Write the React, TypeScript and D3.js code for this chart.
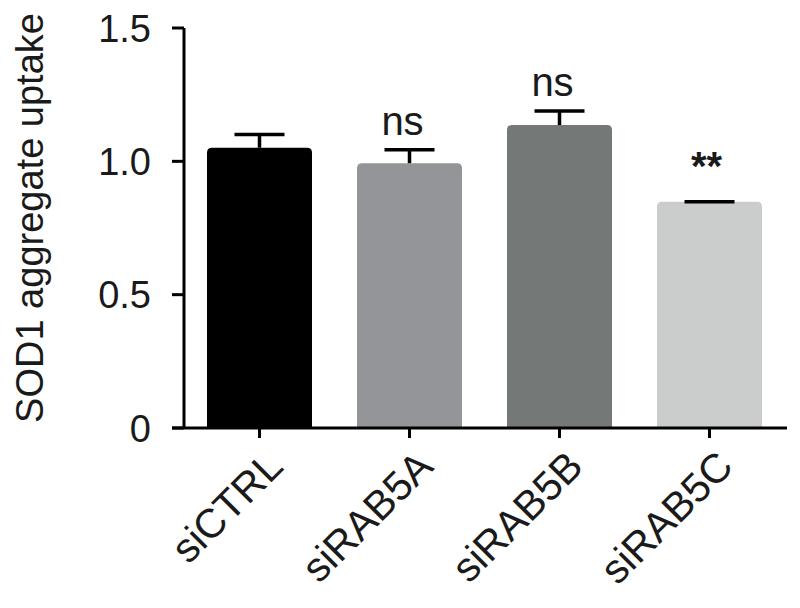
import React from "react";
import * as d3 from "d3";

const categories = ["siCTRL", "siRAB5A", "siRAB5B", "siRAB5C"];
const means = [1.051, 0.993, 1.136, 0.848];
const errors = [0.05, 0.05, 0.053, 0.0];
const barColors = ["#000000", "#939598", "#747978", "#cbcdcc"];
const significance = ["", "ns", "ns", "**"];
const yTicks = [0, 0.5, 1.0, 1.5];
const yTickLabels = ["0", "0.5", "1.0", "1.5"];
const yLabel = "SOD1 aggregate uptake";

const W = 800;
const H = 608;
const FONT = "'Liberation Sans', Arial, Helvetica, sans-serif";

export default function App() {
  const axisX = 184;
  const y = d3.scaleLinear().domain([0, 1.5]).range([428, 28]);
  const x = d3
    .scaleBand<string>()
    .domain(categories)
    .range([184.5, 784.5])
    .paddingInner(0.3)
    .paddingOuter(0.15);
  const bw = x.bandwidth();
  const capW = 50;
  const r = 5;

  return (
    <svg
      width={W}
      height={H}
      style={{ position: "absolute", left: 0, top: 0, background: "#fff" }}
      fontFamily={FONT}
    >
      {/* bars */}
      {categories.map((c, i) => {
        const x0 = x(c)!;
        const yt = y(means[i]);
        const yb = y(0);
        const path = `M${x0},${yb} L${x0},${yt + r} Q${x0},${yt} ${x0 + r},${yt} L${x0 + bw - r},${yt} Q${x0 + bw},${yt} ${x0 + bw},${yt + r} L${x0 + bw},${yb} Z`;
        return <path key={c} d={path} fill={barColors[i]} />;
      })}
      {/* error bars */}
      {categories.map((c, i) => {
        const cx = x(c)! + bw / 2;
        const yt = y(means[i] + errors[i]);
        const ym = y(means[i]);
        return (
          <g key={c + "e"} stroke="#000" strokeWidth={3.5}>
            {errors[i] > 0.005 && <line x1={cx} x2={cx} y1={ym} y2={yt} />}
            <line x1={cx - capW / 2} x2={cx + capW / 2} y1={yt} y2={yt} />
          </g>
        );
      })}
      {/* significance */}
      {categories.map((c, i) =>
        significance[i] ? (
          <text
            key={c + "s"}
            x={x(c)! + bw / 2 - (significance[i] === "ns" ? 7 : 3)}
            y={y(means[i] + errors[i]) - (significance[i] === "ns" ? 15 : 22)}
            textAnchor="middle"
            fontSize={40}
            fontWeight={significance[i] === "**" ? 700 : 400}
            fill="#1a1a1a"
          >
            {significance[i]}
          </text>
        ) : null
      )}
      {/* y axis */}
      <line x1={axisX} x2={axisX} y1={y(1.5)} y2={y(0)} stroke="#000" strokeWidth={3} />
      {yTicks.map((t, i) => (
        <g key={"yt" + i}>
          <line x1={172} x2={axisX} y1={y(t)} y2={y(t)} stroke="#000" strokeWidth={3} />
          <text
            x={151}
            y={y(t)}
            dy="0.36em"
            textAnchor="end"
            fontSize={38}
            fill="#1a1a1a"
          >
            {yTickLabels[i]}
          </text>
        </g>
      ))}
      {/* x axis */}
      <line x1={172} x2={787} y1={y(0)} y2={y(0)} stroke="#000" strokeWidth={3} />
      {categories.map((c) => {
        const cx = x(c)! + bw / 2;
        return (
          <g key={c + "x"}>
            <line x1={cx} x2={cx} y1={y(0)} y2={y(0) + 10} stroke="#000" strokeWidth={3} />
            <text
              transform={`translate(${cx + 5},${y(0) + 20}) rotate(-45)`}
              textAnchor="end"
              dy="0.71em"
              fontSize={41}
              fill="#1a1a1a"
            >
              {c}
            </text>
          </g>
        );
      })}
      {/* y label */}
      <text
        transform={`translate(43,${218}) rotate(-90)`}
        textAnchor="middle"
        fontSize={38}
        fill="#1a1a1a"
      >
        {yLabel}
      </text>
    </svg>
  );
}
